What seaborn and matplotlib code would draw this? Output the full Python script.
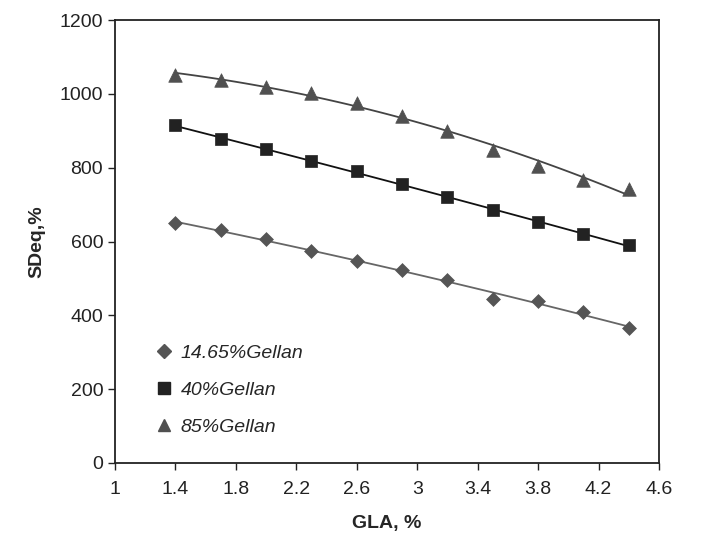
import numpy as np
import pandas as pd
import matplotlib
matplotlib.use("Agg")
import matplotlib.pyplot as plt
import seaborn as sns
from matplotlib.lines import Line2D

sns.set_style("white")
plt.rcParams['font.family'] = ['Liberation Sans', 'DejaVu Sans']

gla = [1.4, 1.7, 2.0, 2.3, 2.6, 2.9, 3.2, 3.5, 3.8, 4.1, 4.4]
g1465 = [650, 630, 607, 575, 548, 522, 495, 443, 440, 408, 366]
g40 = [915, 878, 850, 818, 790, 755, 722, 685, 652, 620, 590]
g85 = [1050, 1038, 1020, 1003, 975, 940, 900, 848, 805, 768, 742]
series_names = ["14.65%Gellan", "40%Gellan", "85%Gellan"]
xticks = [1, 1.4, 1.8, 2.2, 2.6, 3, 3.4, 3.8, 4.2, 4.6]
yticks = [0, 200, 400, 600, 800, 1000, 1200]

markers = {"14.65%Gellan": "D", "40%Gellan": "s", "85%Gellan": "^"}
msizes = {"14.65%Gellan": 50, "40%Gellan": 75, "85%Gellan": 95}
colors = {"14.65%Gellan": "#555555", "40%Gellan": "#222222", "85%Gellan": "#505050"}
linecolors = {"14.65%Gellan": "#666666", "40%Gellan": "#111111", "85%Gellan": "#444444"}

df = pd.DataFrame({
    "GLA": gla * 3,
    "SDeq": g1465 + g40 + g85,
    "series": sum([[n] * len(gla) for n in series_names], []),
})

fig = plt.figure(figsize=(7.03, 5.44), dpi=100)
ax = fig.add_axes([0.1636, 0.149, 0.7738, 0.814])

# trend lines (2nd-order polynomial fits of each series)
xf = np.linspace(min(gla), max(gla), 100)
for name, vals in zip(series_names, [g1465, g40, g85]):
    c = np.polyfit(gla, vals, 2)
    sns.lineplot(x=xf, y=np.polyval(c, xf), ax=ax, color=linecolors[name], lw=1.3, zorder=2)

for name in series_names:
    sub = df[df.series == name]
    sns.scatterplot(data=sub, x="GLA", y="SDeq", ax=ax, marker=markers[name],
                    s=msizes[name], color=colors[name], edgecolor=colors[name],
                    linewidth=0.5, zorder=3)

ax.set_xlim(1, 4.6)
ax.set_ylim(0, 1200)
ax.set_xticks(xticks)
ax.set_xticklabels([f"{t:g}" for t in xticks])
ax.set_yticks(yticks)
ax.tick_params(axis="both", direction="out", length=5, width=1, labelsize=14, colors="#222222",
               bottom=True, left=True)
ax.tick_params(axis="x", pad=8)
for sp in ax.spines.values():
    sp.set_color("#222222")
    sp.set_linewidth(1.3)
ax.set_xlabel("GLA, %", fontsize=14, fontweight="bold", labelpad=12)
ax.set_ylabel("SDeq,%", fontsize=14, fontweight="bold", labelpad=10)

handles = [Line2D([], [], ls="none", marker=markers[n], color=colors[n],
                  markersize={"14.65%Gellan": 7, "40%Gellan": 8, "85%Gellan": 9}[n]) for n in series_names]
leg = ax.legend(handles, series_names, loc="center left", bbox_to_anchor=(0.062, 0.164),
                frameon=False, prop={"style": "italic", "size": 14}, handletextpad=0.05,
                handlelength=1.6, labelspacing=1.0, borderaxespad=0.0, borderpad=0.0)
fig.savefig("out.png", dpi=100)
